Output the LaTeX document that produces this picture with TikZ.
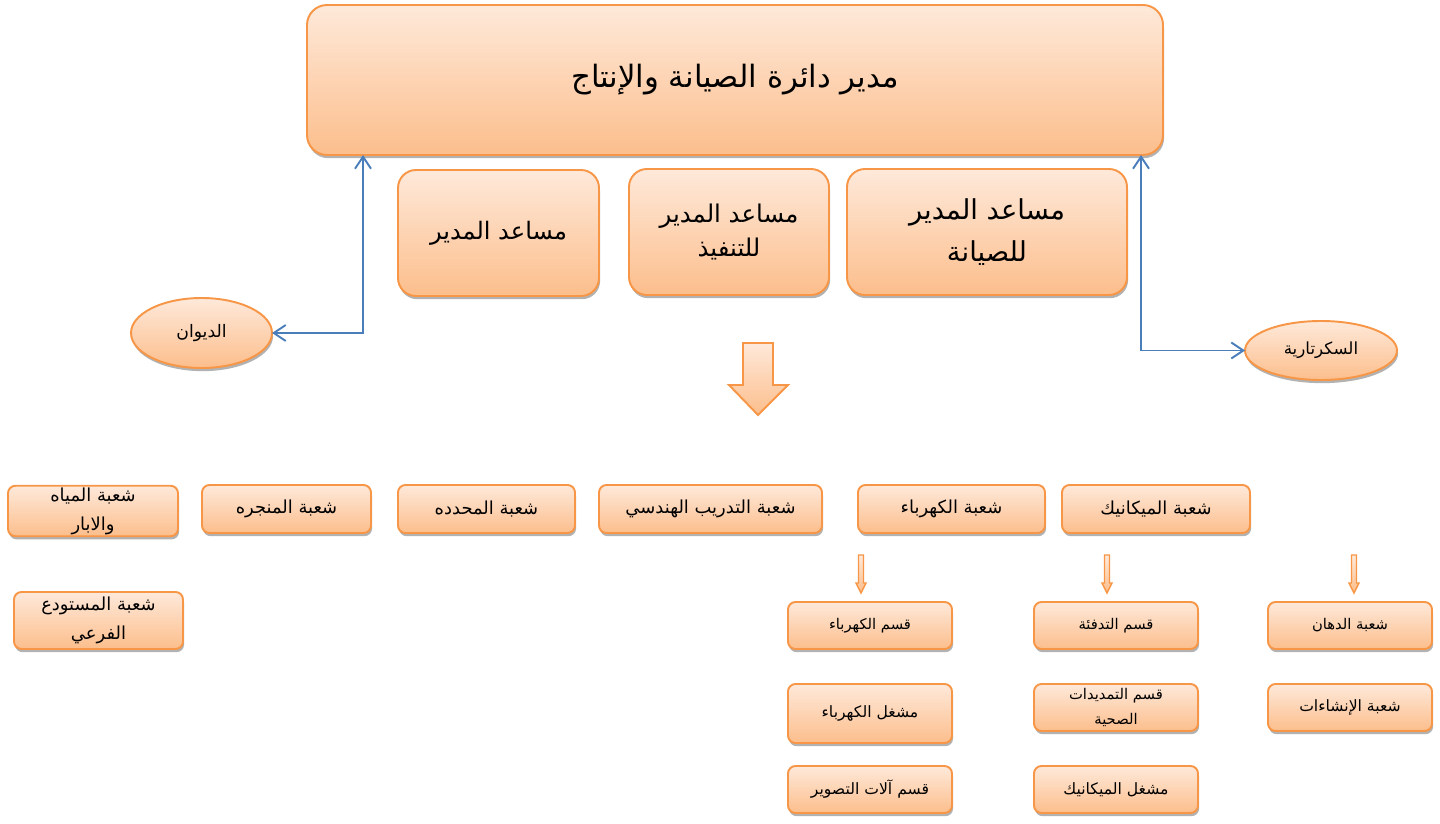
\documentclass[tikz,border=0pt]{standalone}
\usepackage{fontspec}
\newfontfamily\arabicfont[Script=Arabic]{DejaVu Sans}
\TeXXeTstate=1
\usetikzlibrary{shadows,arrows.meta,calc,shapes.geometric}
\definecolor{orTop}{RGB}{254,233,218}
\definecolor{orBot}{RGB}{252,190,140}
\definecolor{orLine}{RGB}{247,150,70}
\definecolor{conBlue}{RGB}{74,126,187}
\newcommand\ar[1]{{\arabicfont\beginR #1\endR}}
\newcommand\boxat[7]{\node[#2, minimum width={(#5-#3)*0.02cm}, minimum height={(#6-#4)*0.02cm}] (#1) at ({(#3+#5)/2},{(#4+#6)/2}) {#7};}
\newcommand\smallarr[2]{\path[orarrow, line width=0.8pt] (#1-2.5,#2) -- (#1+2.5,#2) -- (#1+2.5,#2+28) -- (#1+5,#2+28) -- (#1,#2+38) -- (#1-5,#2+28) -- (#1-2.5,#2+28) -- cycle;}
\tikzset{
  orbase/.style={draw=orLine, line width=1.1pt, top color=orTop, bottom color=orBot,
    drop shadow={shadow xshift=0.6pt, shadow yshift=-1.8pt, opacity=0.3, fill=black},
    align=center, inner sep=1pt, outer sep=0pt, text=black},
  bigbox/.style={orbase, rectangle, rounded corners=0.4cm},
  midbox/.style={orbase, rectangle, rounded corners=0.36cm},
  smbox/.style={orbase, rectangle, rounded corners=0.15cm},
  oval/.style={orbase, ellipse},
  orarrow/.style={draw=orLine, line width=1.1pt, top color=orTop, bottom color=orBot},
  conn/.style={draw=conBlue, line width=1.1pt, {Straight Barb[length=2.4mm,width=3.2mm]}-{Straight Barb[length=2.4mm,width=3.2mm]}},
  f1/.style={font=\fontsize{10.2}{16.5}\selectfont},
  f2/.style={font=\fontsize{8.4}{13.5}\selectfont},
  f3/.style={font=\fontsize{8.9}{13.5}\selectfont},
}
\begin{document}
\begin{tikzpicture}[x=0.02cm, y=-0.02cm]
\useasboundingbox (0,0) rectangle (1440,824);
% top
\boxat{top}{bigbox, font=\fontsize{17.5}{22}\selectfont}{307}{5}{1163}{155}{\ar{مدير دائرة الصيانة والإنتاج}}
% assistants
\boxat{a1}{midbox, font=\fontsize{13.7}{19}\selectfont}{398}{170}{599}{296}{\ar{مساعد المدير}}
\boxat{a2}{midbox, font=\fontsize{13.9}{19.5}\selectfont}{629}{169}{829}{295}{\ar{مساعد المدير}\\\ar{للتنفيذ}}
\boxat{a3}{midbox, font=\fontsize{15.6}{23.5}\selectfont}{847}{169}{1127}{295}{\ar{مساعد المدير}\\\ar{للصيانة}}
% ellipses
\boxat{diwan}{oval, font=\fontsize{9.8}{12}\selectfont}{131}{298}{272}{368}{\ar{الديوان}}
\boxat{sec}{oval, font=\fontsize{9.5}{12}\selectfont}{1245}{321}{1397}{380}{\ar{السكرتارية}}
% connectors
\draw[conn] (diwan.east) -| ($(top.south west)+(56,0)$);
\draw[conn] (sec.west) -| ($(top.south east)+(-22,0)$);
% big arrow
\path[orarrow] (743,343) -- (773,343) -- (773,385) -- (788,385) -- (758,415) -- (729,385) -- (743,385) -- cycle;
% row 1
\boxat{water}{smbox, f1}{8}{487}{178}{535}{\ar{شعبة المياه}\\\ar{والابار}}
\boxat{manj}{smbox, f1}{202}{485}{371}{533}{\ar{شعبة المنجره}}
\boxat{muhad}{smbox, f1}{398}{485}{575}{533}{\ar{شعبة المحدده}}
\boxat{train}{smbox, f1}{599}{485}{822}{533}{\ar{شعبة التدريب الهندسي}}
\boxat{elec}{smbox, f1}{858}{485}{1045}{533}{\ar{شعبة الكهرباء}}
\boxat{mech}{smbox, f1}{1062}{485}{1250}{533}{\ar{شعبة الميكانيك}}
\boxat{store}{smbox, f1}{14}{592}{183}{649}{\ar{شعبة المستودع}\\\ar{الفرعي}}
% small arrows
\smallarr{861}{555}
\smallarr{1107}{555}
\smallarr{1354}{555}
% rows 2-4
\boxat{qelec}{smbox, f2}{788}{602}{952}{649}{\ar{قسم الكهرباء}}
\boxat{qheat}{smbox, f2}{1034}{602}{1198}{649}{\ar{قسم التدفئة}}
\boxat{paint}{smbox, f2}{1268}{602}{1432}{649}{\ar{شعبة الدهان}}
\boxat{elecop}{smbox, f3}{788}{684}{952}{743}{\ar{مشغل الكهرباء}}
\boxat{plumb}{smbox, font=\fontsize{8.4}{14.2}\selectfont}{1034}{684}{1198}{731}{\ar{قسم التمديدات}\\\ar{الصحية}}
\boxat{constr}{smbox, f3}{1268}{684}{1432}{731}{\ar{شعبة الإنشاءات}}
\boxat{camera}{smbox, f3}{788}{766}{952}{813}{\ar{قسم آلات التصوير}}
\boxat{mechop}{smbox, f3}{1034}{766}{1198}{813}{\ar{مشغل الميكانيك}}
\end{tikzpicture}
\end{document}
